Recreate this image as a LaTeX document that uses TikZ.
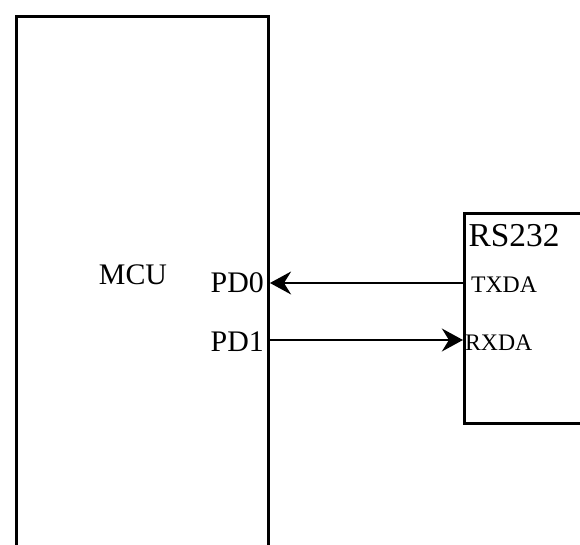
\documentclass[tikz,border=0pt]{standalone}
\usepackage{fontspec}
\setmainfont{Liberation Serif}
\usetikzlibrary{arrows.meta,calc}

\begin{document}
\begin{tikzpicture}[
    x=0.02cm, y=0.02cm,
    block/.style={
        draw=black,
        line width=1.7pt,
        inner sep=0pt
    },
    pinlabel/.style={
        font=\fontsize{17}{17}\selectfont,
        inner sep=1pt
    },
    portlabel/.style={
        font=\fontsize{13.5}{13.5}\selectfont,
        inner sep=1pt
    },
    signal/.style={
        -{Stealth[length=12pt,width=13pt,inset=4pt]},
        draw=black,
        line width=1.5pt
    }
]
    \useasboundingbox (0,0) rectangle (580,544);
    \clip (0,0) rectangle (580,544);

    \node[block, anchor=north west, minimum width=5.04cm, minimum height=11cm]
        (mcu) at (15,529) {};
    \node[block, anchor=north west, minimum width=3.4cm, minimum height=4.2cm]
        (rs232) at (463,332) {};

    \node[pinlabel] (mcuname) at (133,269) {MCU};
    \node[pinlabel, anchor=east] (pd0) at ($(mcu.east |- 0,261)+(-4,0)$) {PD0};
    \node[pinlabel, anchor=east] (pd1) at ($(mcu.east |- 0,202)+(-4,0)$) {PD1};

    \node[pinlabel, font=\fontsize{19}{19}\selectfont] (rsname) at (514,308) {RS232};
    \node[portlabel, anchor=west] (txda) at ($(rs232.west |- 0,259)+(6,0)$) {TXDA};
    \node[portlabel, anchor=west] (rxda) at ($(rs232.west |- 0,201)+(0,0)$) {RXDA};

    \draw[signal] (rs232.west |- pd0.east) -- (mcu.east |- pd0.east);
    \draw[signal] (mcu.east |- 0,204) -- (rs232.west |- 0,204);
\end{tikzpicture}
\end{document}
